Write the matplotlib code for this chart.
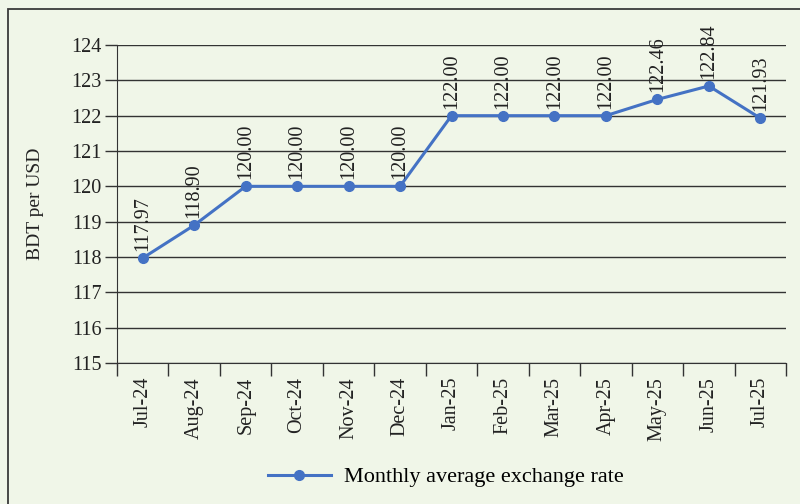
import matplotlib.pyplot as plt
from matplotlib.patches import Rectangle

months = ['Jul-24', 'Aug-24', 'Sep-24', 'Oct-24', 'Nov-24', 'Dec-24', 'Jan-25',
          'Feb-25', 'Mar-25', 'Apr-25', 'May-25', 'Jun-25', 'Jul-25']
rates = [117.97, 118.90, 120.00, 120.00, 120.00, 120.00, 122.00,
         122.00, 122.00, 122.00, 122.46, 122.84, 121.93]
yticks = [115, 116, 117, 118, 119, 120, 121, 122, 123, 124]

bg = '#f0f6e8'
blue = '#4472c4'
serif = ['Liberation Serif', 'DejaVu Serif']

fig = plt.figure(figsize=(8, 5.04), dpi=100, facecolor=bg)
fig.patches.append(Rectangle((8 / 800, -0.1), 1.0, 1.1 - 9 / 504, transform=fig.transFigure,
                             fill=False, edgecolor='#3a3a3a', linewidth=1.3))

ax = fig.add_axes([117 / 800, 1 - 363 / 504, (786 - 117) / 800, (363 - 45) / 504])
ax.set_facecolor(bg)

x = list(range(len(months)))
ax.plot(x, rates, color=blue, linewidth=2.2, marker='o', markersize=7,
        label='Monthly average exchange rate', zorder=3)

for xi, v in zip(x, rates):
    ax.annotate(f'{v:.2f}', (xi, v), xytext=(0, 5), textcoords='offset points',
                rotation=90, ha='center', va='bottom', fontsize=14.5,
                family=serif, color='#222222')

ax.set_xlim(-0.5, len(months) - 0.5)
ax.set_ylim(115, 124)
ax.set_yticks(yticks)
ax.yaxis.grid(True, color='#333333', linewidth=1)
ax.set_axisbelow(True)
for s in ['top', 'right']:
    ax.spines[s].set_visible(False)
ax.spines['left'].set_color('#333333')
ax.spines['bottom'].set_color('#333333')

ax.set_xticks([i - 0.5 for i in range(len(months) + 1)], minor=False)
ax.set_xticklabels([])
ax.set_xticks(x, minor=True)
ax.set_xticklabels(months, minor=True, rotation=90, family=serif, fontsize=14.5, color='#222222')
ax.tick_params(axis='x', which='major', length=9, width=1, color='#333333', direction='out')
ax.tick_params(axis='x', which='minor', length=0, pad=10)
ax.tick_params(axis='y', length=9, width=1, color='#333333', pad=2)
for lab in ax.get_yticklabels():
    lab.set_family(serif)
    lab.set_fontsize(14.5)
    lab.set_color('#222222')

ax.set_ylabel('BDT per USD', family=serif, fontsize=14, color='#222222', labelpad=20)

fig.legend(loc='center', bbox_to_anchor=(446 / 800, 1 - 477 / 504), frameon=False,
           prop={'family': serif, 'size': 16}, handlelength=2.8, handletextpad=0.6)

fig.savefig('out.png', dpi=100, facecolor=bg)
